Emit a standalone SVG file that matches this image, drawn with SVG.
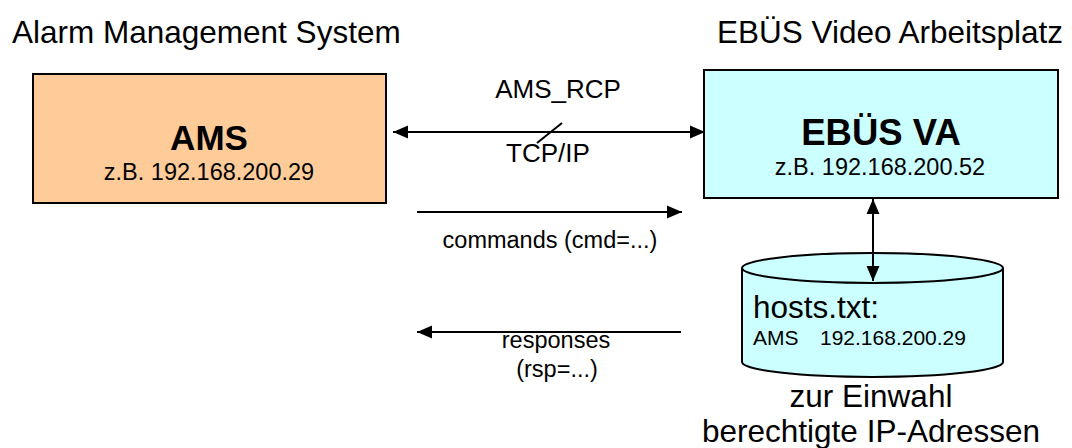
<svg xmlns="http://www.w3.org/2000/svg" width="1072" height="448" viewBox="0 0 1072 448">
<style>
text{font-family:"Liberation Sans",Arial,sans-serif;fill:#000}
.t32{font-size:31.5px}
.t26{font-size:26px}
.t24{font-size:23.5px}
.t21{font-size:21px}
.b{font-weight:bold}
.box{stroke:#000;stroke-width:2}
.ln{stroke:#000;stroke-width:2;fill:none}
</style>
<defs>
<marker id="ah" markerUnits="userSpaceOnUse" markerWidth="16" markerHeight="14" refX="15" refY="7" orient="auto-start-reverse" viewBox="0 0 16 14">
<path d="M0,0.5 L15,7 L0,13.5 Z" fill="#000"/>
</marker>
</defs>
<g id="titles">
<text class="t32" x="12" y="42.5">Alarm Management System</text>
<text class="t32" x="717" y="42.5">EBÜS Video Arbeitsplatz</text>
</g>
<g id="ams">
<rect class="box" x="33" y="74" width="353" height="129" fill="#FFCC99"/>
<text class="b" x="209" y="150" font-size="35" text-anchor="middle">AMS</text>
<text class="t24" x="209" y="180" text-anchor="middle">z.B. 192.168.200.29</text>
</g>
<g id="ebues">
<rect class="box" x="704" y="70" width="354" height="128" fill="#CCFFFF"/>
<text class="b" x="881" y="145" font-size="36.5" text-anchor="middle">EBÜS VA</text>
<text class="t24" x="880" y="175" text-anchor="middle">z.B. 192.168.200.52</text>
</g>
<g id="hosts">
<path class="box" d="M742,268 L742,362 A130.5,15 0 0 0 1003,362 L1003,268" fill="#CCFFFF"/>
<ellipse class="box" cx="872.5" cy="268" rx="130.5" ry="15" fill="#CCFFFF"/>
<text class="t32" x="753" y="318">hosts.txt:</text>
<text class="t21" y="345"><tspan x="753">AMS</tspan><tspan x="820">192.168.200.29</tspan></text>
<text class="t32" x="871" y="407" text-anchor="middle">zur Einwahl</text>
<text class="t32" x="871" y="442" text-anchor="middle">berechtigte IP-Adressen</text>
</g>
<g id="connectors">
<line class="ln" x1="393" y1="132" x2="705" y2="132" marker-start="url(#ah)" marker-end="url(#ah)"/>
<line class="ln" x1="537" y1="143" x2="562" y2="123"/>
<text class="t26" x="558" y="98" text-anchor="middle">AMS_RCP</text>
<text class="t26" x="548" y="162" text-anchor="middle">TCP/IP</text>
<line class="ln" x1="417" y1="212" x2="682" y2="212" marker-end="url(#ah)"/>
<text class="t24" x="550" y="248" text-anchor="middle">commands (cmd=...)</text>
<line class="ln" x1="681" y1="332" x2="417" y2="332" marker-end="url(#ah)"/>
<text class="t24" x="556" y="348" text-anchor="middle">responses</text>
<text class="t24" x="557" y="377" text-anchor="middle">(rsp=...)</text>
<line class="ln" x1="873" y1="199" x2="873" y2="281" marker-start="url(#ah)" marker-end="url(#ah)"/>
</g>
</svg>
